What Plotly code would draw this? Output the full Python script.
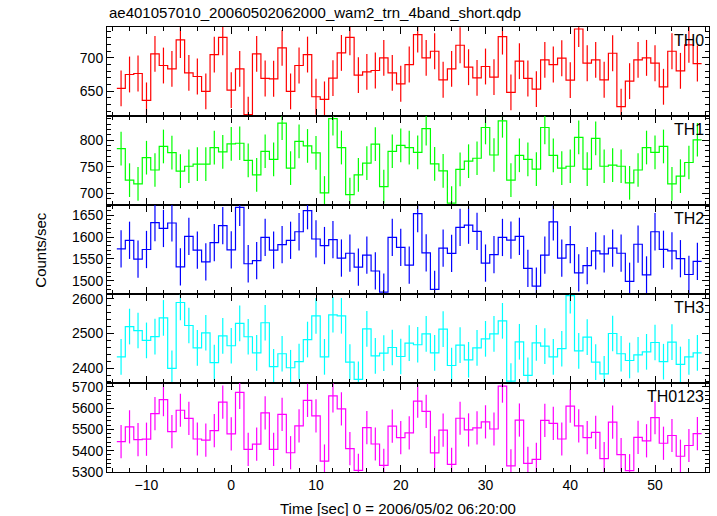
import plotly.graph_objects as go
from plotly.subplots import make_subplots

time = [-13, -12, -11, -10, -9, -8, -7, -6, -5, -4, -3, -2, -1, 0, 1, 2, 3, 4, 5, 6,
        7, 8, 9, 10, 11, 12, 13, 14, 15, 16, 17, 18, 19, 20, 21, 22, 23, 24, 25, 26,
        27, 28, 29, 30, 31, 32, 33, 34, 35, 36, 37, 38, 39, 40, 41, 42, 43, 44, 45, 46,
        47, 48, 49, 50, 51, 52, 53, 54, 55]

th0 = [654, 675, 676.5, 636, 706, 688.5, 683.5, 727, 677.5, 672,
       649.5, 705, 731, 651.5, 683.5, 614.5, 706, 669, 668.5, 715,
       649.5, 688.5, 705, 641.5, 637.5, 669.5, 707.5, 731, 674, 679,
       681, 700, 677.5, 661, 690, 735, 700, 710, 667, 683.5,
       719, 686, 670, 687, 671, 732, 648, 695, 669, 653,
       697, 690, 699.5, 666.5, 743.5, 692, 697, 667, 707, 626.5,
       665, 697, 700, 692, 656.5, 710, 680.5, 719.5, 691.5]

th1 = [784, 725, 718, 767, 744, 788, 776.5, 742, 751, 755,
       755, 786, 778, 793, 794, 762, 735, 779, 764, 831.5,
       747.5, 797.5, 789, 776, 701, 840, 786, 698, 735, 757,
       792.5, 713, 779, 790, 786, 777, 821.5, 755.5, 742.5, 682,
       745, 760.5, 766, 823.5, 772, 836, 725, 771.5, 764, 745.5,
       823.5, 771.5, 747.5, 751, 805, 745.5, 803, 751, 753, 751,
       720, 744, 786, 777, 788, 718, 732.5, 758, 800.5]

th2 = [1573, 1592.5, 1549.5, 1571.5, 1633, 1619.5, 1632, 1532, 1601.5, 1570,
       1543.5, 1587, 1626, 1570.5, 1667.5, 1539, 1546, 1599, 1570, 1582.5,
       1592.5, 1612, 1660, 1595.5, 1580.5, 1594, 1552, 1563, 1531.5, 1558.5,
       1522.5, 1474.5, 1599, 1576.5, 1536, 1653.5, 1564, 1480.5, 1574.5, 1562.5,
       1622, 1627, 1613, 1540.5, 1560, 1599, 1593, 1601.5, 1528.5, 1488,
       1558.5, 1634.5, 1552, 1582.5, 1518, 1534.5, 1568.5, 1561.5, 1574.5, 1563,
       1499, 1583.5, 1513.5, 1612, 1572, 1568.5, 1550.5, 1514.5, 1544.5]

th3 = [2432.5, 2520, 2508.5, 2480, 2491, 2545, 2399, 2589.5, 2523, 2458.5,
       2502, 2416, 2493, 2464.5, 2529, 2490.5, 2444, 2531, 2404, 2441.5,
       2401, 2418.5, 2482.5, 2551, 2432.5, 2554, 2551, 2417.5, 2367.5, 2513.5,
       2435.5, 2443.5, 2459.5, 2433.5, 2472, 2467.5, 2499, 2444, 2512.5, 2407.5,
       2466.5, 2424, 2458.5, 2484.5, 2499, 2536.5, 2362.5, 2476, 2379, 2473,
       2463.5, 2432.5, 2456, 2609.5, 2450, 2489.5, 2417.5, 2383.5, 2500, 2441.5,
       2422, 2438.5, 2447, 2474, 2418.5, 2475, 2410.5, 2432.5, 2444]

th0123 = [5443, 5512, 5452, 5454, 5574, 5640, 5490, 5590, 5552, 5455,
          5450, 5494, 5628, 5479.5, 5674, 5406, 5431, 5578, 5406.5, 5570.5,
          5390.5, 5516.5, 5636.5, 5564, 5351.5, 5657.5, 5596.5, 5409.5, 5308, 5508,
          5431.5, 5331, 5515, 5461, 5484, 5633, 5584.5, 5390, 5496.5, 5335.5,
          5552.5, 5497.5, 5507.5, 5535.5, 5502, 5703.5, 5328.5, 5544, 5340.5, 5359.5,
          5542.5, 5528.5, 5455, 5609.5, 5516.5, 5461.5, 5486, 5363, 5534.5, 5382,
          5306, 5463, 5446.5, 5555, 5435, 5471.5, 5374, 5424.5, 5480.5]

band_names = ["TH0", "TH1", "TH2", "TH3", "TH0123"]
band_values = [th0, th1, th2, th3, th0123]
band_errors = [27, 31.5, 42.5, 51.5, 78]
band_colors = ["#ff0000", "#00ff00", "#0000ff", "#00ffff", "#ff00ff"]
y_ranges = [[612.5, 746.5], [678.5, 845], [1470, 1673], [2357, 2614], [5300, 5718]]
y_dticks = [50, 50, 50, 100, 100]
y_minor = [10, 10, 10, 20, 20]

title_text = "ae401057010_20060502062000_wam2_trn_4band_short.qdp"
x_title = "Time [sec] 0 = 2006/05/02 06:20:00"
y_title = "Counts/sec"

FONT = "Liberation Sans, Arial, Helvetica, sans-serif"

fig = make_subplots(rows=5, cols=1, shared_xaxes=True, vertical_spacing=0)

half = 0.5
for i, (name, vals, err, col) in enumerate(zip(band_names, band_values, band_errors, band_colors)):
    r = i + 1
    edges = [t - half for t in time] + [time[-1] + half]
    step_y = list(vals) + [vals[-1]]
    fig.add_trace(go.Scatter(x=edges, y=step_y, mode="lines", line=dict(color=col, width=1.2, shape="hv"),
                             showlegend=False, hoverinfo="skip"), row=r, col=1)
    fig.add_trace(go.Scatter(x=time, y=vals, mode="markers",
                             marker=dict(size=1, color="rgba(0,0,0,0)"),
                             error_y=dict(type="constant", value=err, width=0, thickness=1.2, color=col),
                             showlegend=False), row=r, col=1)
    axis_common = dict(showline=True, linecolor="black", linewidth=1, mirror="allticks",
                       ticks="inside", ticklen=7, tickcolor="black", tickwidth=1,
                       showgrid=False, zeroline=False,
                       tickfont=dict(family=FONT, size=14, color="black"))
    fig.update_yaxes(range=y_ranges[i], dtick=y_dticks[i], tick0=0,
                     minor=dict(ticks="inside", ticklen=4, dtick=y_minor[i], tick0=0, tickcolor="black", showgrid=False),
                     row=r, col=1, **axis_common)
    fig.update_xaxes(range=[-14.66, 56.37], dtick=10, tick0=0,
                     minor=dict(ticks="inside", ticklen=4, dtick=2, tick0=0, tickcolor="black", showgrid=False),
                     showticklabels=(r == 5), row=r, col=1, **axis_common)
    fig.add_annotation(text=name, xref="x domain" if r == 1 else f"x{r} domain",
                       yref="y domain" if r == 1 else f"y{r} domain",
                       x=0.995, y=0.97, xanchor="right", yanchor="top", showarrow=False,
                       font=dict(family=FONT, size=16, color="black"))

fig.add_annotation(text=title_text, xref="paper", yref="paper", x=0.0, y=1.032,
                   xanchor="left", yanchor="middle", showarrow=False,
                   font=dict(family=FONT, size=15, color="black"))
fig.add_annotation(text=x_title, xref="paper", yref="paper", x=0.483, y=-0.081,
                   xanchor="center", yanchor="middle", showarrow=False,
                   font=dict(family=FONT, size=15, color="black"))
fig.add_annotation(text=y_title, xref="paper", yref="paper", x=-0.111, y=0.5,
                   xanchor="center", yanchor="middle", textangle=-90, showarrow=False,
                   font=dict(family=FONT, size=15, color="black"))

fig.update_layout(width=717, height=516, margin=dict(l=107, r=8, t=27, b=44),
                  plot_bgcolor="white", paper_bgcolor="white")

fig.write_html("out.html", config={"displayModeBar": False, "staticPlot": True},
               post_script="document.body.style.margin='0';document.body.style.padding='0';document.body.style.overflow='hidden';")
